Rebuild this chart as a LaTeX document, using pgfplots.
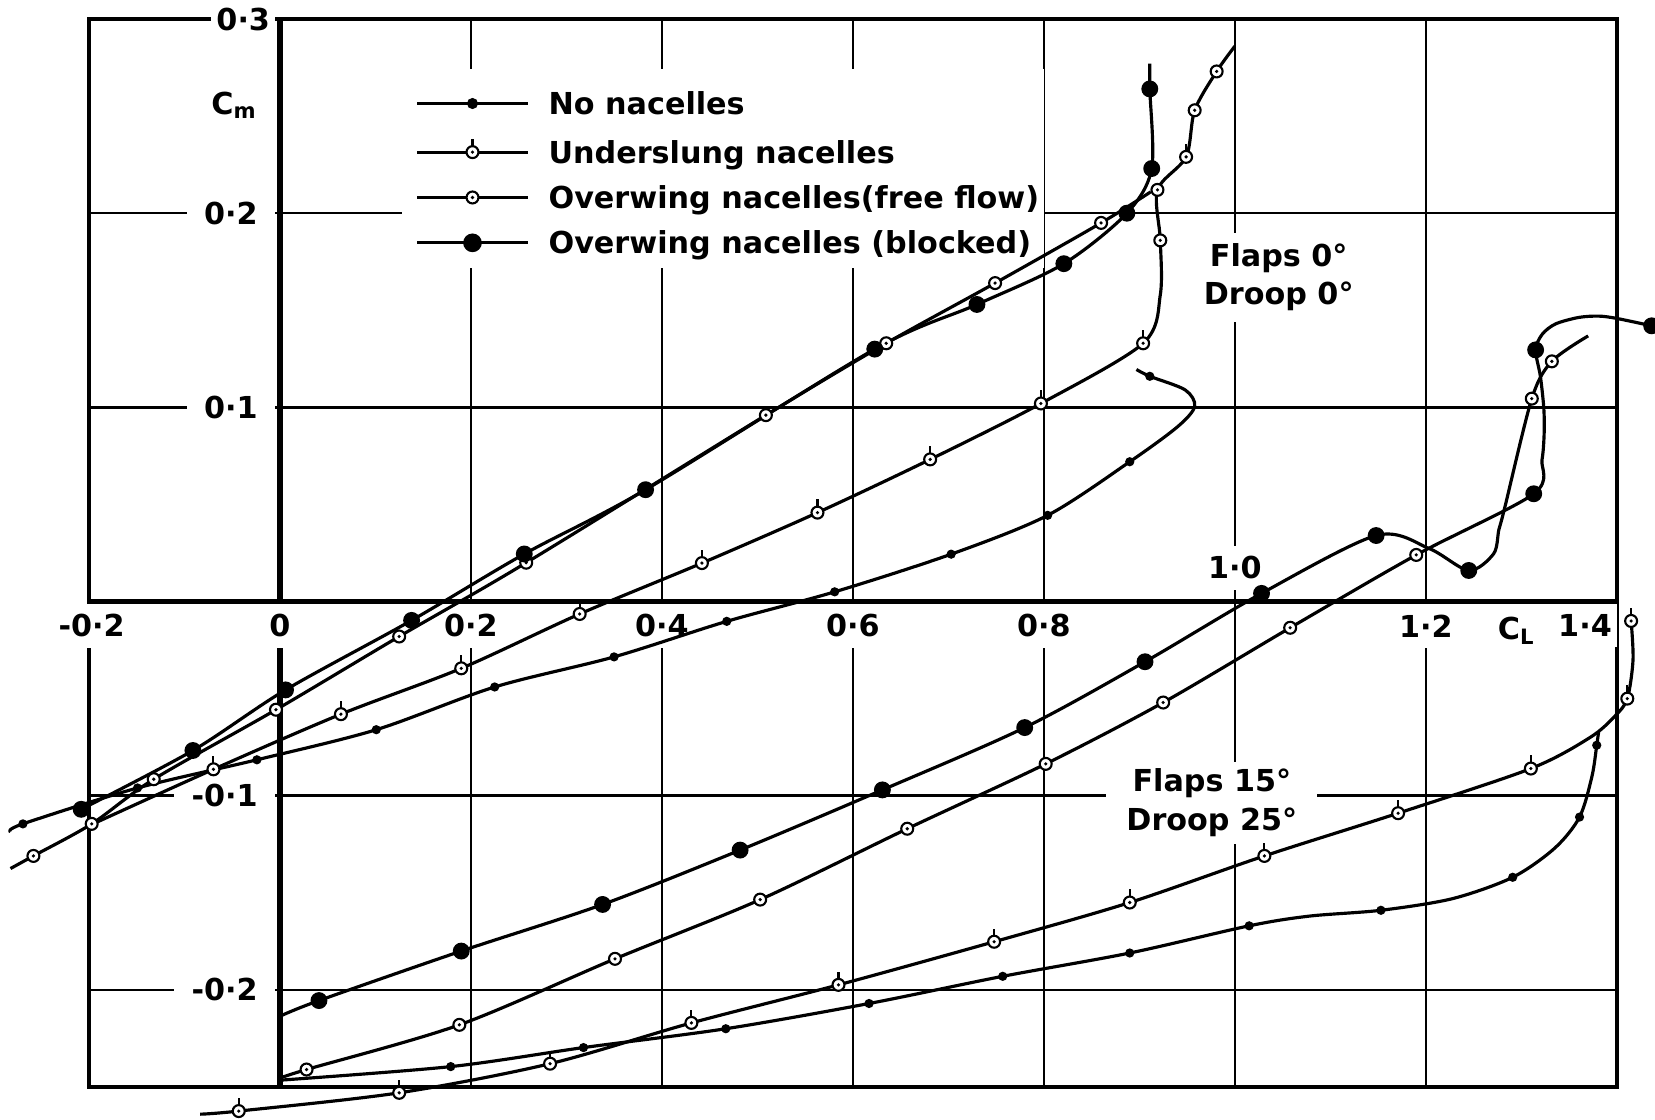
\documentclass[border=0pt]{standalone}
\usepackage{fontspec}
\setmainfont{DejaVu Sans}
\usepackage{pgfplots}
\pgfplotsset{compat=1.18}
\newcommand{\lf}{\fontsize{8.6}{11}\selectfont\bfseries}
\pgfdeclareplotmark{ffree}{%
  \pgfpathcircle{\pgfpointorigin}{\pgfplotmarksize}%
  \pgfsetfillcolor{white}\pgfusepath{fill,stroke}%
  \pgfpathcircle{\pgfpointorigin}{0.3\pgfplotmarksize}%
  \pgfsetfillcolor{black}\pgfusepath{fill}}
\pgfdeclareplotmark{under}{%
  \pgfpathmoveto{\pgfpoint{0pt}{0.9\pgfplotmarksize}}%
  \pgfpathlineto{\pgfpoint{0pt}{2.2\pgfplotmarksize}}%
  \pgfusepath{stroke}%
  \pgfpathcircle{\pgfpointorigin}{\pgfplotmarksize}%
  \pgfsetfillcolor{white}\pgfusepath{fill,stroke}%
  \pgfpathcircle{\pgfpointorigin}{0.3\pgfplotmarksize}%
  \pgfsetfillcolor{black}\pgfusepath{fill}}
\tikzset{
  crv/.style={black, line width=0.9pt, smooth, tension=0.5},
  mNo/.style={only marks, mark=*, mark size=1.1pt, mark options={fill=black, draw=black}},
  mUn/.style={only marks, mark=under, mark size=1.7pt, mark options={line width=0.6pt, draw=black}},
  mFr/.style={only marks, mark=ffree, mark size=1.7pt, mark options={line width=0.6pt, draw=black}},
  mBl/.style={only marks, mark=*, mark size=2.2pt, mark options={fill=black, draw=black}},
  lbl/.style={font=\lf, fill=white, inner sep=1.5pt},
}
\begin{document}
\begin{tikzpicture}
\begin{axis}[
  scale only axis, width=15.28cm, height=10.68cm,
  xmin=-0.2, xmax=1.4, ymin=-0.25, ymax=0.3,
  xtick={-0.2,0,0.2,0.4,0.6,0.8,1.0,1.2,1.4},
  ytick={-0.2,-0.1,0,0.1,0.2,0.3},
  xticklabels={}, yticklabels={},
  major tick length=0pt,
  grid=major, major grid style={black, line width=0.7pt},
  axis line style={black, line width=1pt},
  clip=false,
  legend style={at={(axis cs:0.142,0.2621)}, anchor=north west, draw=none, fill=none,
    inner sep=0pt, outer sep=0pt, row sep=6.7pt, column sep=0.19cm,
    cells={anchor=west}, nodes={inner sep=0pt, text height=6.2pt, text depth=0pt, font=\lf}},
  legend image code/.code={\draw[mark repeat=2,mark phase=2,#1] plot coordinates {(0cm,0cm) (0.555cm,0cm) (1.11cm,0cm)};},
]
\coordinate (bbA) at (axis cs:-0.293,-0.2665);
\coordinate (bbB) at (axis cs:1.44,0.3098);
% thick axes
\draw[line width=1.6pt] (axis cs:-0.2,0) -- (axis cs:1.4,0);
\draw[line width=1.8pt] (axis cs:0,-0.25) -- (axis cs:0,0.3);
% erasers and labels
\fill[white] (axis cs:0.128,0.172) rectangle (axis cs:0.80,0.274);
\node[lbl, align=center, inner xsep=4pt, inner ysep=3pt] at (axis cs:1.046,0.167) {Flaps 0°\\Droop 0°};
\node[lbl, align=center, inner xsep=0.2cm, inner ysep=2pt] at (axis cs:0.976,-0.1035) {Flaps 15°\\Droop 25°};
\node[lbl, anchor=east] at (axis cs:-0.004,0.3) {0·3};
\node[lbl, anchor=east, inner xsep=5pt] at (axis cs:-0.004,0.2) {0·2};
\node[lbl, anchor=east, inner xsep=5pt] at (axis cs:-0.004,0.1) {0·1};
\node[lbl, anchor=east, inner xsep=5pt] at (axis cs:-0.004,-0.1) {-0·1};
\node[lbl, anchor=east, inner xsep=5pt] at (axis cs:-0.004,-0.2) {-0·2};
\node[lbl, inner ysep=3pt] at (axis cs:-0.197,-0.0125) {-0·2};
\node[lbl, inner ysep=3pt] at (axis cs:0,-0.0125) {0};
\node[lbl, inner ysep=3pt] at (axis cs:0.2,-0.0125) {0·2};
\node[lbl, inner ysep=3pt] at (axis cs:0.4,-0.0125) {0·4};
\node[lbl, inner ysep=3pt] at (axis cs:0.6,-0.0125) {0·6};
\node[lbl, inner ysep=3pt] at (axis cs:0.8,-0.0125) {0·8};
\node[lbl, inner ysep=3pt] at (axis cs:1.0,0.0175) {1·0};
\node[lbl, inner ysep=3pt] at (axis cs:1.2,-0.0125) {1·2};
\node[lbl, anchor=east, inner ysep=3pt] at (axis cs:1.401,-0.0125) {1·4};
\node[lbl] at (axis cs:1.295,-0.015) {C\textsubscript{L}};
\node[lbl] at (axis cs:-0.0475,0.2555) {C\textsubscript{m}};

% ===== Flaps 0, Droop 0 =====
% No nacelles
\addplot[crv, forget plot] coordinates {(-0.282,-0.1185) (-0.269,-0.1145) (-0.149,-0.096) (-0.024,-0.0815) (0.101,-0.066) (0.225,-0.044) (0.350,-0.0285) (0.468,-0.0102) (0.581,0.005) (0.703,0.0244) (0.804,0.0444) (0.890,0.072) (0.940,0.090) (0.958,0.1005) (0.948,0.109) (0.911,0.116) (0.897,0.1195)};
\addplot[mNo, forget plot] coordinates {(-0.269,-0.1145) (-0.149,-0.096) (-0.024,-0.0815) (0.101,-0.066) (0.225,-0.044) (0.350,-0.0285) (0.468,-0.0102) (0.581,0.005) (0.703,0.0244) (0.804,0.0444) (0.890,0.072) (0.911,0.116)};
% Underslung
\addplot[crv, forget plot] coordinates {(-0.2,-0.1155) (-0.0695,-0.0864) (0.064,-0.058) (0.190,-0.0344) (0.314,-0.0064) (0.442,0.0198) (0.563,0.0458) (0.681,0.0732) (0.797,0.102) (0.904,0.133) (0.922,0.158) (0.922,0.186) (0.919,0.212) (0.949,0.229) (0.958,0.253) (0.981,0.273) (1.0,0.286)};
\addplot[mUn, forget plot] coordinates {(-0.0695,-0.0864) (0.064,-0.058) (0.190,-0.0344) (0.314,-0.0064) (0.442,0.0198) (0.563,0.0458) (0.681,0.0732) (0.797,0.102) (0.904,0.133) (0.922,0.186) (0.949,0.229)};
\addplot[mFr, forget plot] coordinates {(0.919,0.212) (0.958,0.253) (0.981,0.273)};
% Overwing free flow
\addplot[crv, forget plot] coordinates {(-0.282,-0.1375) (-0.258,-0.131) (-0.197,-0.1145) (-0.132,-0.0915) (-0.004,-0.0557) (0.125,-0.018) (0.258,0.020) (0.509,0.096) (0.635,0.133) (0.749,0.164) (0.860,0.195) (0.912,0.211)};
\addplot[mFr, forget plot] coordinates {(-0.258,-0.131) (-0.197,-0.1145) (-0.132,-0.0915) (-0.004,-0.0557) (0.125,-0.018) (0.258,0.020) (0.509,0.096) (0.635,0.133) (0.749,0.164) (0.860,0.195)};
% Overwing blocked
\addplot[crv, forget plot] coordinates {(-0.208,-0.107) (-0.091,-0.0767) (0.006,-0.0455) (0.138,-0.0097) (0.256,0.0245) (0.383,0.0576) (0.623,0.130) (0.730,0.153) (0.821,0.174) (0.887,0.200) (0.913,0.223) (0.911,0.264) (0.911,0.277)};
\addplot[mBl, forget plot] coordinates {(-0.208,-0.107) (-0.091,-0.0767) (0.006,-0.0455) (0.138,-0.0097) (0.256,0.0245) (0.383,0.0576) (0.623,0.130) (0.730,0.153) (0.821,0.174) (0.887,0.200) (0.913,0.223) (0.911,0.264)};

% ===== Flaps 15, Droop 25 =====
% No nacelles
\addplot[crv, forget plot] coordinates {(0,-0.2465) (0.179,-0.2395) (0.318,-0.2297) (0.467,-0.220) (0.617,-0.207) (0.757,-0.193) (0.890,-0.181) (1.015,-0.167) (1.078,-0.162) (1.153,-0.159) (1.228,-0.153) (1.291,-0.142) (1.335,-0.127) (1.361,-0.111) (1.374,-0.090) (1.379,-0.074) (1.381,-0.067)};
\addplot[mNo, forget plot] coordinates {(0.179,-0.2395) (0.318,-0.2297) (0.467,-0.220) (0.617,-0.207) (0.757,-0.193) (0.890,-0.181) (1.015,-0.167) (1.153,-0.159) (1.291,-0.142) (1.361,-0.111) (1.379,-0.074)};
% Underslung
\addplot[crv, forget plot] coordinates {(-0.0835,-0.264) (-0.043,-0.2624) (0.125,-0.253) (0.283,-0.238) (0.431,-0.217) (0.585,-0.1974) (0.748,-0.1752) (0.890,-0.155) (1.031,-0.131) (1.171,-0.109) (1.310,-0.086) (1.372,-0.070) (1.398,-0.059) (1.411,-0.050) (1.417,-0.030) (1.415,-0.010)};
\addplot[mUn, forget plot] coordinates {(-0.043,-0.2624) (0.125,-0.253) (0.283,-0.238) (0.431,-0.217) (0.585,-0.1974) (0.748,-0.1752) (0.890,-0.155) (1.031,-0.131) (1.171,-0.109) (1.310,-0.086) (1.411,-0.050) (1.415,-0.010)};
% Overwing free flow
\addplot[crv, forget plot] coordinates {(0,-0.2455) (0.028,-0.241) (0.188,-0.218) (0.351,-0.184) (0.503,-0.1535) (0.657,-0.117) (0.802,-0.0836) (0.925,-0.052) (1.058,-0.0135) (1.190,0.024) (1.313,0.0555) (1.3217,0.073) (1.324,0.0875) (1.3235,0.100) (1.320,0.116) (1.315,0.1296) (1.322,0.1377) (1.336,0.143) (1.360,0.1463) (1.381,0.147) (1.400,0.1458) (1.4365,0.142)};
\addplot[mFr, forget plot] coordinates {(0.028,-0.241) (0.188,-0.218) (0.351,-0.184) (0.503,-0.1535) (0.657,-0.117) (0.802,-0.0836) (0.925,-0.052) (1.058,-0.0135) (1.190,0.024) (1.311,0.1045) (1.332,0.1237)};
% Overwing blocked
\addplot[crv, forget plot] coordinates {(0,-0.2136) (0.041,-0.2055) (0.190,-0.180) (0.338,-0.156) (0.482,-0.128) (0.631,-0.097) (0.780,-0.0649) (0.906,-0.031) (1.028,0.0042) (1.148,0.034) (1.2035,0.0273) (1.245,0.016) (1.271,0.0246) (1.2765,0.037) (1.282,0.047) (1.311,0.1045) (1.332,0.1237) (1.370,0.1368)};
\addplot[mBl, forget plot] coordinates {(0.041,-0.2055) (0.190,-0.180) (0.338,-0.156) (0.482,-0.128) (0.631,-0.097) (0.780,-0.0649) (0.906,-0.031) (1.028,0.0042) (1.148,0.034) (1.245,0.016) (1.313,0.0555) (1.315,0.1296) (1.4365,0.142)};

% legend
\addlegendimage{line width=0.9pt, mark=*, mark size=1.1pt, mark options={fill=black}}
\addlegendentry{No nacelles}
\addlegendimage{line width=0.9pt, mark=under, mark size=1.7pt, mark options={line width=0.6pt}}
\addlegendentry{Underslung nacelles}
\addlegendimage{line width=0.9pt, mark=ffree, mark size=1.7pt, mark options={line width=0.6pt}}
\addlegendentry{Overwing nacelles(free flow)}
\addlegendimage{line width=0.9pt, mark=*, mark size=2.2pt, mark options={fill=black}}
\addlegendentry{Overwing nacelles (blocked)}
\end{axis}
\pgfresetboundingbox
\path[use as bounding box] (bbA) rectangle (bbB);
\end{tikzpicture}
\end{document}
